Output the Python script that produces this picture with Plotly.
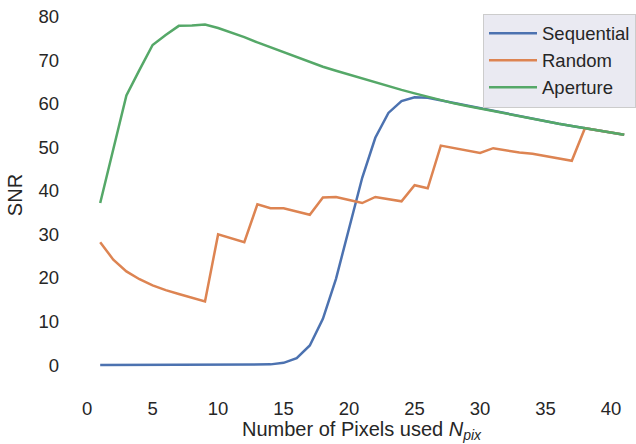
import plotly.graph_objects as go

# Number of pixels used
n_pix = list(range(1, 42))

# SNR of each pixel-selection strategy
snr_aperture = [
    37.2, 49.5, 61.9, 67.8, 73.5, 75.8, 77.9, 78.0, 78.2, 77.4,
    76.4, 75.3, 74.1, 73.0, 71.8, 70.7, 69.6, 68.5, 67.6, 66.7,
    65.8, 64.9, 64.0, 63.2, 62.4, 61.6, 60.8, 60.1, 59.5, 58.9,
    58.3, 57.7, 57.1, 56.5, 55.9, 55.4, 54.9, 54.4, 53.9, 53.4,
    52.9,
]
snr_sequential = [
    0.0, 0.0, 0.0, 0.0, 0.0, 0.0, 0.0, 0.0, 0.0, 0.0,
    0.0, 0.0, 0.05, 0.15, 0.5, 1.6, 4.5, 10.6, 19.8, 31.5,
    43.0, 52.2, 57.9, 60.6, 61.5, 61.4, 60.8, 60.1, 59.5, 58.9,
    58.3, 57.7, 57.1, 56.5, 55.9, 55.4, 54.9, 54.4, 53.9, 53.4,
    52.9,
]
snr_random = [
    28.2, 24.2, 21.5, 19.7, 18.3, 17.2, 16.3, 15.4, 14.6, 30.0,
    29.1, 28.2, 36.9, 36.0, 36.0, 35.3, 34.5, 38.5, 38.6, 37.9,
    37.2, 38.6, 38.1, 37.6, 41.3, 40.6, 50.4, 49.8, 49.3, 48.7,
    49.8, 49.3, 48.8, 48.5, 48.0, 47.5, 46.9, 54.4, 53.9, 53.4,
    52.9,
]

x_ticks = [0, 5, 10, 15, 20, 25, 30, 35, 40]
y_ticks = [0, 10, 20, 30, 40, 50, 60, 70, 80]

series = [
    ("Sequential", snr_sequential, "#4c72b0"),
    ("Random", snr_random, "#dd8452"),
    ("Aperture", snr_aperture, "#55a868"),
]

fig = go.Figure()
for name, values, color in series:
    fig.add_trace(go.Scatter(
        x=n_pix, y=values, name=name, mode="lines",
        line=dict(color=color, width=2.5),
    ))

font = "Liberation Sans, Arial, sans-serif"
ink = "#262626"
fig.update_layout(
    width=636, height=444,
    margin=dict(l=74, r=0, t=8, b=62),
    paper_bgcolor="white", plot_bgcolor="white",
    font=dict(family=font, size=18.5, color=ink),
    showlegend=True,
    legend=dict(
        x=0.728, y=0.985, xanchor="left", yanchor="top",
        bgcolor="#eaeaf2", bordercolor="#cccccc", borderwidth=1,
        font=dict(size=18.5, color=ink),
        tracegroupgap=0, itemwidth=48,
    ),
    xaxis=dict(
        range=[-1, 41.9], tickvals=x_ticks, showgrid=False,
        zeroline=False, showline=False, ticks="",
        tickfont=dict(size=18.5), ticklabelstandoff=13,
    ),
    yaxis=dict(
        range=[-3.9, 82], tickvals=y_ticks, showgrid=False,
        zeroline=False, showline=False, ticks="",
        tickfont=dict(size=18.5), ticklabelstandoff=14,
        title=dict(text="SNR", font=dict(size=20), standoff=10),
    ),
)

fig.add_annotation(
    text="Number of Pixels used <i>N</i><sub><i>pix</i></sub>",
    xref="paper", yref="paper", x=0.5125, y=0, yshift=-63,
    xanchor="center", yanchor="bottom", showarrow=False,
    font=dict(size=20, family=font, color=ink),
)

fig.write_html("out.html")
